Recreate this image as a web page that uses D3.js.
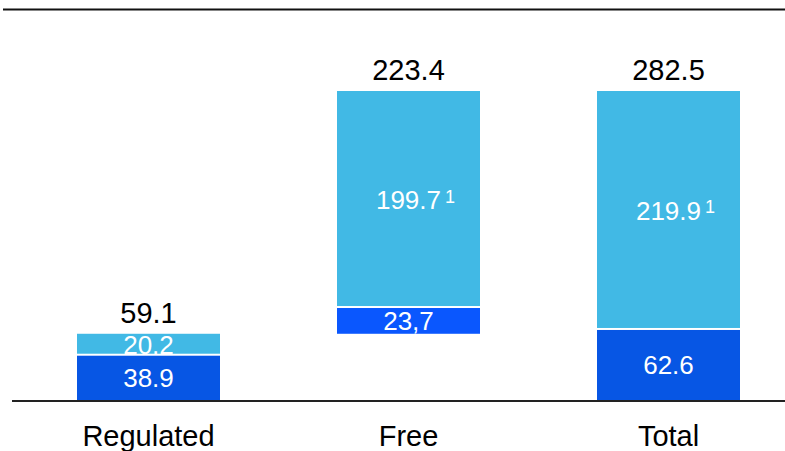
<!DOCTYPE html>
<html>
<head>
<meta charset="utf-8">
<script src="https://cdn.jsdelivr.net/npm/d3@7"></script>
<style>
  body { margin: 0; background: #fff; }
  svg { display: block; font-family: "Liberation Sans", Arial, sans-serif; }
</style>
</head>
<body>
<svg width="785" height="451"></svg>
<script>
  // chart values
  const categories = ['Regulated', 'Free', 'Total'];
  const baseValues = [0, 59.1, 0];          // waterfall start of each bar
  const darkValues = [38.9, 23.7, 62.6];
  const lightValues = [20.2, 199.7, 219.9];
  const totalLabels = ['59.1', '223.4', '282.5'];
  const darkLabels = ['38.9', '23,7', '62.6'];
  const lightLabels = ['20.2', '199.7', '219.9'];
  const footnotes = ['', '1', '1'];

  const svg = d3.select('svg');
  const width = +svg.attr('width');
  const baseY = 401;

  const x = d3.scaleBand()
    .domain(categories)
    .range([18.5, 798.5])
    .paddingInner(0.45)
    .paddingOuter(0.225);

  const y = d3.scaleLinear()
    .domain([0, 282.5])
    .range([398, 91]);

  const darkColor = d3.scaleOrdinal()
    .domain(categories)
    .range(['#0756E4', '#0A57FE', '#0756E4']);
  const lightColor = '#41B9E5';

  const rows = categories.map((c, i) => ({
    cat: c,
    base: baseValues[i],
    dark: darkValues[i],
    light: lightValues[i],
    total: totalLabels[i],
    darkLabel: darkLabels[i],
    lightLabel: lightLabels[i],
    note: footnotes[i]
  }));

  // bottom edge of a bar: bars that start at zero sit on the baseline
  const bottom = d => d.base ? y(d.base) : baseY - 1;

  // top rule
  svg.append('line')
    .attr('x1', 3).attr('x2', width)
    .attr('y1', 9.5).attr('y2', 9.5)
    .attr('stroke', '#111').attr('stroke-width', 2);

  const g = svg.append('g');

  const bar = g.selectAll('.bar').data(rows).enter()
    .append('g')
      .attr('class', 'bar');

  // dark segment
  bar.append('rect')
    .attr('x', d => x(d.cat))
    .attr('width', x.bandwidth())
    .attr('y', d => y(d.base + d.dark))
    .attr('height', d => bottom(d) - y(d.base + d.dark))
    .attr('fill', d => darkColor(d.cat));

  // light segment
  bar.append('rect')
    .attr('x', d => x(d.cat))
    .attr('width', x.bandwidth())
    .attr('y', d => y(d.base + d.dark + d.light))
    .attr('height', d => y(d.base + d.dark) - y(d.base + d.dark + d.light) - 2)
    .attr('fill', lightColor);

  const cx = d => x(d.cat) + x.bandwidth() / 2;

  // labels inside segments
  bar.append('text')
    .attr('x', cx)
    .attr('y', d => (bottom(d) + y(d.base + d.dark)) / 2)
    .attr('dy', '0.36em')
    .attr('text-anchor', 'middle')
    .attr('fill', '#fff')
    .attr('font-size', 26)
    .text(d => d.darkLabel);

  const lightMid = d => (y(d.base + d.dark) + y(d.base + d.dark + d.light)) / 2;

  const lightText = bar.append('text')
    .attr('x', cx)
    .attr('y', lightMid)
    .attr('dy', '0.36em')
    .attr('text-anchor', 'middle')
    .attr('fill', '#fff')
    .attr('font-size', 26)
    .text(d => d.lightLabel);

  // footnote markers
  lightText.each(function (d) {
    if (!d.note) return;
    const w = this.getComputedTextLength();
    d3.select(this.parentNode).append('text')
      .attr('x', cx(d) + w / 2 + 4)
      .attr('y', lightMid(d) + 3)
      .attr('fill', '#fff')
      .attr('font-size', 18)
      .text(d.note);
  });

  // totals above bars
  bar.append('text')
    .attr('x', cx)
    .attr('y', d => y(d.base + d.dark + d.light) - 11)
    .attr('text-anchor', 'middle')
    .attr('fill', '#000')
    .attr('font-size', 29)
    .text(d => d.total);

  // baseline
  svg.append('line')
    .attr('x1', 12).attr('x2', width)
    .attr('y1', baseY).attr('y2', baseY)
    .attr('stroke', '#222').attr('stroke-width', 2);

  // category axis
  const xAxis = d3.axisBottom(x).tickSize(0).tickPadding(24);
  const axisG = svg.append('g')
    .attr('transform', `translate(0,${baseY})`)
    .call(xAxis);
  axisG.select('.domain').remove();
  axisG.selectAll('text')
    .attr('font-size', 29)
    .attr('font-family', '"Liberation Sans", Arial, sans-serif')
    .attr('fill', '#000');
</script>
</body>
</html>
